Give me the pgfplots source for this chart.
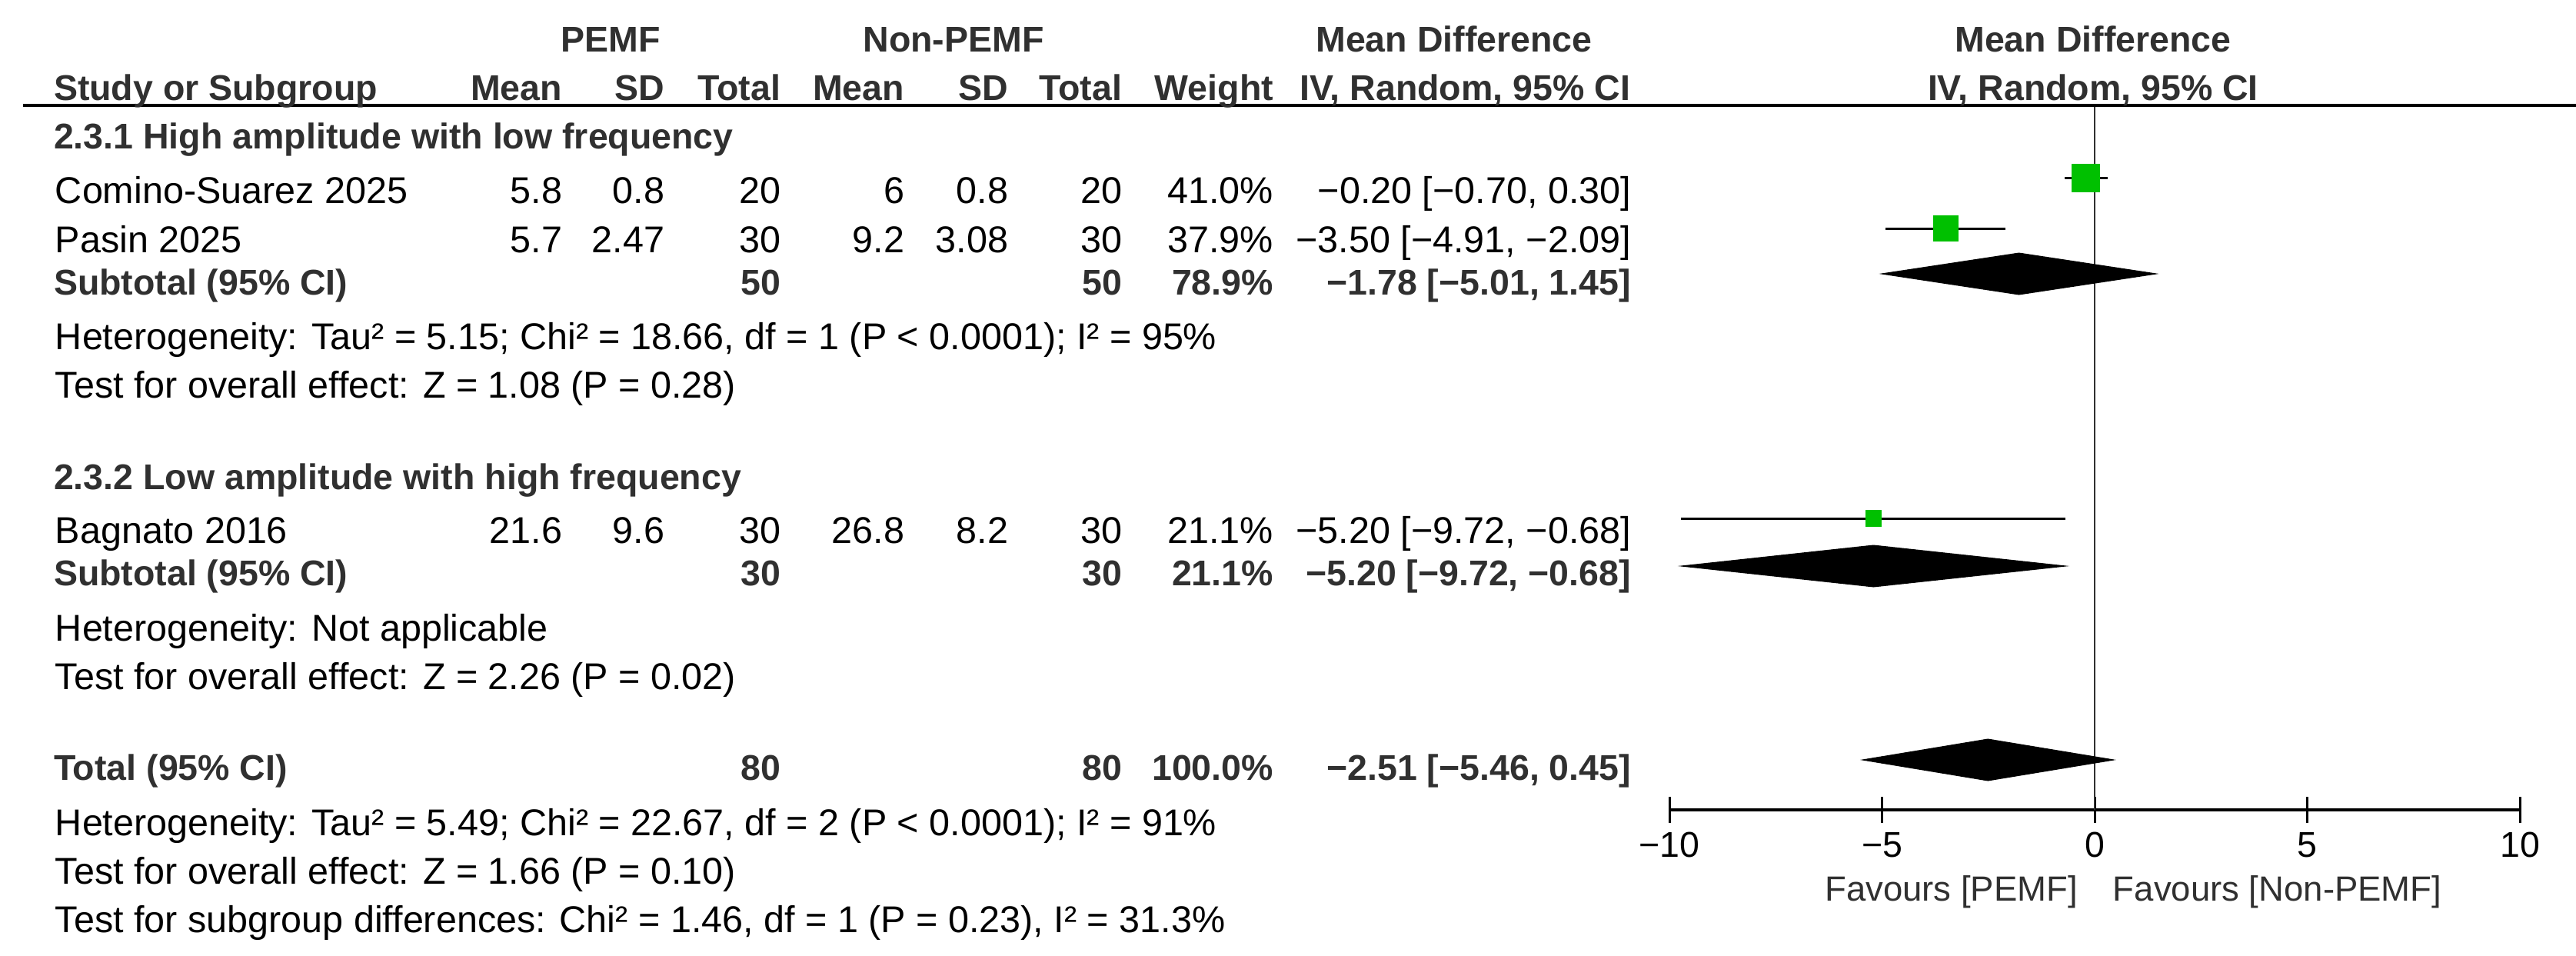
\documentclass[border=0pt]{standalone}
\usepackage{fontspec}
\setmainfont{Liberation Sans}
\usepackage{pgfplots}
\pgfplotsset{compat=1.18}
\definecolor{rmgreen}{RGB}{0,192,0}
\definecolor{hd}{RGB}{48,48,48}
\begin{document}
\begin{tikzpicture}
\useasboundingbox (0,0) rectangle (670pt,-248.6pt);
% forest plot: x = mean difference, y = -(pixel row)
\begin{axis}[
  at={(434.2pt,-210.6pt)}, anchor=south west,
  width=221.2pt, height=183.2pt, scale only axis,
  xmin=-10, xmax=10, ymin=-1053, ymax=-137,
  axis x line=bottom, axis y line=none,
  x axis line style={-, line width=0.7pt},
  xtick={-10,-5,0,5,10}, xticklabels={−10,−5,0,5,10},
  major tick length=6.8pt, tick align=center,
  x tick style={line width=0.6pt, black},
  xticklabel style={font=\fontsize{9.3}{11}\selectfont, anchor=base, yshift=-8.8pt},
  clip=false,
]
\addplot[hd, line width=0.55pt] coordinates {(0,-137) (0,-1053)};
% confidence intervals
\addplot[black, line width=0.6pt] coordinates {(-0.70,-231) (0.30,-231)};
\addplot[black, line width=0.6pt] coordinates {(-4.91,-297) (-2.09,-297)};
\addplot[black, line width=0.6pt] coordinates {(-9.72,-674) (-0.68,-674)};
% study estimates, size by weight
\addplot[only marks, mark=square*, mark size=3.5pt, rmgreen] coordinates {(-0.20,-231)};
\addplot[only marks, mark=square*, mark size=3.15pt, rmgreen] coordinates {(-3.50,-297)};
\addplot[only marks, mark=square*, mark size=1.95pt, rmgreen] coordinates {(-5.20,-674)};
% pooled diamonds
\addplot[fill=black, draw=black, line width=0.2pt] coordinates {(-5.01,-356) (-1.78,-329) (1.45,-356) (-1.78,-383)} -- cycle;
\addplot[fill=black, draw=black, line width=0.2pt] coordinates {(-9.72,-736) (-5.20,-709) (-0.68,-736) (-5.20,-763)} -- cycle;
\addplot[fill=black, draw=black, line width=0.2pt] coordinates {(-5.46,-988) (-2.51,-961) (0.45,-988) (-2.51,-1015)} -- cycle;
\end{axis}

\begin{scope}[x=0.2pt, y=-0.2pt,
  n/.style={font=\fontsize{9.7}{11}\selectfont, inner sep=0pt, text=black},
  b/.style={font=\fontsize{9.3}{11}\selectfont\bfseries, inner sep=0pt, text=hd},
  L/.style={anchor=base west}, R/.style={anchor=base east}, C/.style={anchor=base}]
\draw[line width=0.7pt] (30,137) -- (3350,137);
% header
\node[b,C] at (794,68) {PEMF};
\node[b,C] at (1240,68) {Non-PEMF};
\node[b,C] at (1891,68) {Mean Difference};
\node[b,C] at (2722,68) {Mean Difference};
\node[b,L] at (69,131) {Study or Subgroup};
\node[b,R] at (732,131) {Mean};
\node[b,R] at (865,131) {SD};
\node[b,R] at (1016,131) {Total};
\node[b,R] at (1177,131) {Mean};
\node[b,R] at (1312,131) {SD};
\node[b,R] at (1460,131) {Total};
\node[b,R] at (1657,131) {Weight};
\node[b,R] at (2121,131) {IV, Random, 95\% CI};
\node[b,C] at (2722,131) {IV, Random, 95\% CI};
% subgroup 2.3.1
\node[b,L] at (69,194) {2.3.1 High amplitude with low frequency};
\node[n,L] at (71,265) {Comino-Suarez 2025};
\node[n,R] at (732,265) {5.8};
\node[n,R] at (865,265) {0.8};
\node[n,R] at (1016,265) {20};
\node[n,R] at (1177,265) {6};
\node[n,R] at (1312,265) {0.8};
\node[n,R] at (1460,265) {20};
\node[n,R] at (1657,265) {41.0\%};
\node[n,R] at (2122,265) {−0.20 [−0.70, 0.30]};
\node[n,L] at (71,329) {Pasin 2025};
\node[n,R] at (732,329) {5.7};
\node[n,R] at (865,329) {2.47};
\node[n,R] at (1016,329) {30};
\node[n,R] at (1177,329) {9.2};
\node[n,R] at (1312,329) {3.08};
\node[n,R] at (1460,329) {30};
\node[n,R] at (1657,329) {37.9\%};
\node[n,R] at (2122,329) {−3.50 [−4.91, −2.09]};
\node[b,L] at (69,384) {Subtotal (95\% CI)};
\node[b,R] at (1016,384) {50};
\node[b,R] at (1460,384) {50};
\node[b,R] at (1657,384) {78.9\%};
\node[b,R] at (2122,384) {−1.78 [−5.01, 1.45]};
\node[n,L] at (71,455) {Heterogeneity: Tau² = 5.15; Chi² = 18.66, df = 1 (P < 0.0001); I² = 95\%};
\node[n,L] at (71,518) {Test for overall effect: Z = 1.08 (P = 0.28)};
% subgroup 2.3.2
\node[b,L] at (69,637) {2.3.2 Low amplitude with high frequency};
\node[n,L] at (71,707) {Bagnato 2016};
\node[n,R] at (732,707) {21.6};
\node[n,R] at (865,707) {9.6};
\node[n,R] at (1016,707) {30};
\node[n,R] at (1177,707) {26.8};
\node[n,R] at (1312,707) {8.2};
\node[n,R] at (1460,707) {30};
\node[n,R] at (1657,707) {21.1\%};
\node[n,R] at (2122,707) {−5.20 [−9.72, −0.68]};
\node[b,L] at (69,762) {Subtotal (95\% CI)};
\node[b,R] at (1016,762) {30};
\node[b,R] at (1460,762) {30};
\node[b,R] at (1657,762) {21.1\%};
\node[b,R] at (2122,762) {−5.20 [−9.72, −0.68]};
\node[n,L] at (71,834) {Heterogeneity: Not applicable};
\node[n,L] at (71,897) {Test for overall effect: Z = 2.26 (P = 0.02)};
% total
\node[b,L] at (69,1015) {Total (95\% CI)};
\node[b,R] at (1016,1015) {80};
\node[b,R] at (1460,1015) {80};
\node[b,R] at (1657,1015) {100.0\%};
\node[b,R] at (2122,1015) {−2.51 [−5.46, 0.45]};
\node[n,L] at (71,1087) {Heterogeneity: Tau² = 5.49; Chi² = 22.67, df = 2 (P < 0.0001); I² = 91\%};
\node[n,L] at (71,1150) {Test for overall effect: Z = 1.66 (P = 0.10)};
\node[n,L] at (71,1213) {Test for subgroup differences: Chi² = 1.46, df = 1 (P = 0.23), I² = 31.3\%};
% favours
\node[n,R,font=\fontsize{9.1}{11}\selectfont,text=hd] at (2703,1172) {Favours [PEMF]};
\node[n,L,font=\fontsize{9.1}{11}\selectfont,text=hd] at (2747,1172) {Favours [Non-PEMF]};
\end{scope}
\end{tikzpicture}
\end{document}
